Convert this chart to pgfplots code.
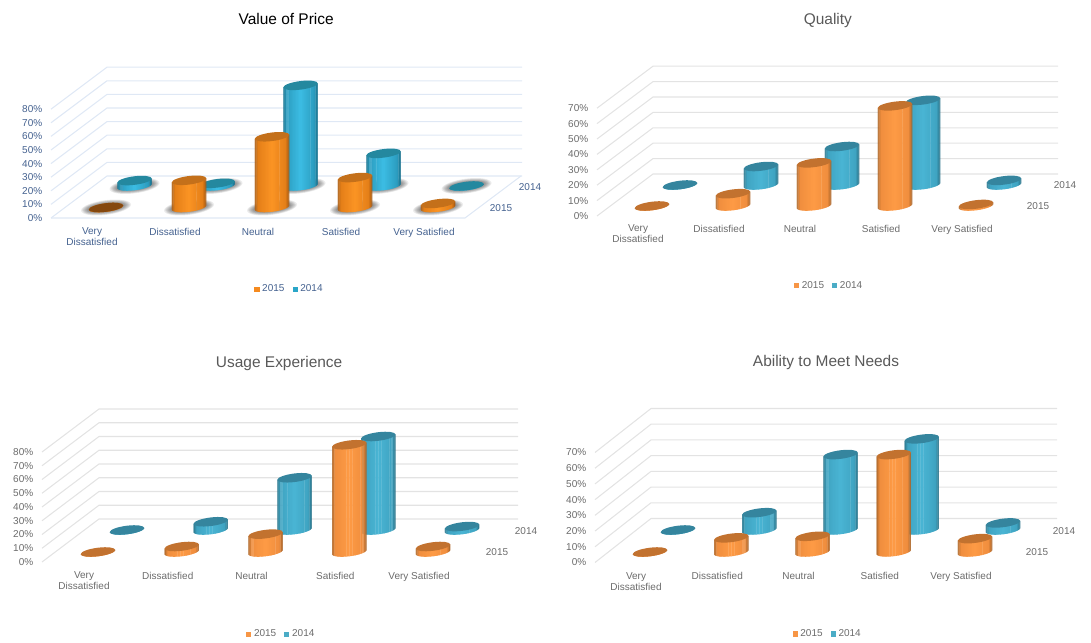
\documentclass[border=0pt]{standalone}
\usepackage{fontspec}
\setmainfont{Liberation Sans}
\usepackage{pgfplots}
\usepackage{pgfplotstable}
\pgfplotsset{compat=1.18}

% one drawing unit, and the size and tilt of the cylinder ends
\def\u{0.75pt}
\def\cylA{17.2}
\def\cylB{4.3}
\def\cylK{0.12}

\definecolor{sOvA}{HTML}{A65A12}
\definecolor{sOvB}{HTML}{E47F18}
\definecolor{sOvC}{HTML}{FB9424}
\definecolor{sBvA}{HTML}{17708C}
\definecolor{sBvB}{HTML}{2C9DC0}
\definecolor{sBvC}{HTML}{3CBDE4}
\definecolor{sOmA}{HTML}{A86428}
\definecolor{sOmB}{HTML}{F08E3E}
\definecolor{sOmC}{HTML}{FE9B45}
\definecolor{sBmA}{HTML}{2A7389}
\definecolor{sBmB}{HTML}{3FA4C2}
\definecolor{sBmC}{HTML}{4AB5D4}
\definecolor{capOv}{HTML}{C4701A}
\definecolor{capBv}{HTML}{24889F}
\definecolor{capOm}{HTML}{C2722F}
\definecolor{capBm}{HTML}{35859E}
\definecolor{discDark}{HTML}{85480F}
\definecolor{legO}{HTML}{F79646}
\definecolor{legOv}{HTML}{F58A1F}
\definecolor{legB}{HTML}{4BACC6}
\definecolor{legBv}{HTML}{2AA6C8}
\definecolor{gridBlue}{HTML}{DFE8F5}
\definecolor{gridGrey}{HTML}{E3E3E3}
\definecolor{textBlue}{HTML}{44618F}
\definecolor{textGrey}{HTML}{6B6B6B}
\definecolor{titleGrey}{HTML}{595959}

% the 36 wall colours of a cylinder, from dark rims to a bright middle
\newcommand\stripColours[4]{%
  \foreach \i in {0,...,35}{%
    \pgfmathsetmacro\cylTm{abs(cos((\i+0.5)*5))}%
    \ifdim\cylTm pt>0.80pt
      \pgfmathtruncatemacro\cylPc{100*(\cylTm-0.80)/0.20}%
      \xglobal\colorlet{#1\i}[rgb]{#2!\cylPc!#3}%
    \else
      \pgfmathtruncatemacro\cylPc{100*\cylTm/0.80}%
      \xglobal\colorlet{#1\i}[rgb]{#3!\cylPc!#4}%
    \fi}}
\stripColours{stripOv}{sOvA}{sOvB}{sOvC}
\stripColours{stripBv}{sBvA}{sBvB}{sBvC}
\stripColours{stripOm}{sOmA}{sOmB}{sOmC}
\stripColours{stripBm}{sBmA}{sBmB}{sBmC}

% a tilted ellipse: fill options, centre height, half width, half height
\newcommand\tiltedEllipse[4]{%
  \pgfmathsetmacro\cylEk{\cylK*#3}\pgfmathsetmacro\cylEc{0.5523*#4}%
  \pgfmathsetmacro\cylEd{0.5523*#3}\pgfmathsetmacro\cylEe{\cylK*\cylEd}%
  \pgfmathsetmacro\cylEy{#2}%
  \fill[draw=none,#1] (#3,\cylEy+\cylEk)
    .. controls (#3,\cylEy+\cylEk+\cylEc) and (\cylEd,\cylEy+#4+\cylEe) .. (0,\cylEy+#4)
    .. controls (-\cylEd,\cylEy+#4-\cylEe) and (-#3,\cylEy-\cylEk+\cylEc) .. (-#3,\cylEy-\cylEk)
    .. controls (-#3,\cylEy-\cylEk-\cylEc) and (-\cylEd,\cylEy-#4-\cylEe) .. (0,\cylEy-#4)
    .. controls (\cylEd,\cylEy-#4+\cylEe) and (#3,\cylEy+\cylEk-\cylEc) .. cycle;}

% a cylinder hanging from the plotted point down to its base; the wall is
% painted in narrow strips
\newcommand\cylinderMark[2]{%
  \pgfmathsetmacro\cylH{\rawy*\pxPerPct}%
  \begin{scope}[x=\u,y=\u]
    \foreach \i in {0,...,35}{%
      \pgfmathsetmacro\cylThA{\i*5}%
      \pgfmathsetmacro\cylThB{min(180,(\i+1)*5+1.5)}%
      \pgfmathsetmacro\cylXa{-\cylA*cos(\cylThA)}%
      \pgfmathsetmacro\cylXb{-\cylA*cos(\cylThB)}%
      \pgfmathsetmacro\cylYa{\cylK*\cylXa}%
      \pgfmathsetmacro\cylYb{\cylK*\cylXb}%
      \pgfmathsetmacro\cylZa{\cylYa-\cylH-\cylB*sin(\cylThA)}%
      \pgfmathsetmacro\cylZb{\cylYb-\cylH-\cylB*sin(\cylThB)}%
      \fill[draw=none,fill=#1\i] (\cylXa,\cylYa) -- (\cylXb,\cylYb) -- (\cylXb,\cylZb) -- (\cylXa,\cylZa) -- cycle;
    }
    \tiltedEllipse{#2}{0}{\cylA}{\cylB}
  \end{scope}}
\pgfdeclareplotmark{cylOv}{\cylinderMark{stripOv}{capOv}}
\pgfdeclareplotmark{cylBv}{\cylinderMark{stripBv}{capBv}}
\pgfdeclareplotmark{cylOm}{\cylinderMark{stripOm}{capOm}}
\pgfdeclareplotmark{cylBm}{\cylinderMark{stripBm}{capBm}}
% soft floor shadow below a cylinder
\pgfdeclareplotmark{floorShadow}{%
  \pgfmathsetmacro\cylH{\rawy*\pxPerPct}%
  \begin{scope}[x=\u,y=\u]
    \foreach \ra/\rb in {25/7.4,24/6.9,23/6.4,22/5.9,21/5.4,20/4.9,19/4.5}{%
      \tiltedEllipse{fill=black,opacity=0.07}{-\cylH}{\ra}{\rb}}
  \end{scope}}
\pgfdeclareplotmark{discDark}{%
  \begin{scope}[x=\u,y=\u]
    \tiltedEllipse{fill=discDark}{0}{\cylA}{\cylB}
  \end{scope}}

\pgfplotsset{
  panel/.style={
    scale only axis, clip=false,
    anchor=south west,
    axis line style={draw=none},
    major tick length=0pt, tick style={draw=none},
    ymin=0,
    xtick={0,1,2,3,4},
    xticklabels={{Very\\Dissatisfied},Dissatisfied,Neutral,Satisfied,Very Satisfied},
    xticklabel style={align=center,anchor=north,xshift=-14*\u,yshift=-9.5*\u,inner sep=0pt},
    yticklabel={\pgfmathprintnumber{\tick}\%},
    yticklabel style={inner sep=0pt,xshift=-8.5*\u},
    /pgf/number format/assume math mode=true,
    ticklabel style={font=\fontsize{7.5}{8.4}\selectfont},
    title style={anchor=center,font=\fontsize{11.6}{14}\selectfont},
    legend style={anchor=center,draw=none,fill=none,legend columns=-1,inner sep=0pt,
      font=\fontsize{7.5}{9}\selectfont,
      /tikz/every even column/.append style={column sep=5.5*\u}},
    legend cell align=left,
    legend image code/.code={\fill[##1,draw=none] (0pt,-1.9pt) rectangle (3.8pt,1.9pt);},
  },
  vivid/.style={ticklabel style={text=textBlue},legend style={text=textBlue},title style={text=black}},
  muted/.style={ticklabel style={text=textGrey},legend style={text=textGrey},title style={text=titleGrey}},
  cylseries/.style={only marks,forget plot,scatter,mark=#1,
    scatter/use mapped color={draw=none,fill=none},
    visualization depends on={rawy \as \rawy}},
}

% the wall and side grid: one line per tick, running back and then across
\newcommand\depthGrid[6]{%
  \pgfplotsinvokeforeach{#1}{%
    \draw[#5,line width=0.8pt] (axis cs:#2,##1) -- ++(#3*\u,#4*\u) -- ++(#6*\u,0pt);}}

\pgfplotstableread{
cat y2015 y2014
0   0     4
1   20    2
2   52    74
3   22    24
4   3     0
}\priceData
\pgfplotstableread{
cat y2015 y2014
0   0     0
1   8     12
2   28    25
3   65    55
4   1     3
}\qualityData
\pgfplotstableread{
cat y2015 y2014
0   0     0
1   4     6
2   13    38
3   78    68
4   4     2.5
}\usageData
\pgfplotstableread{
cat y2015 y2014
0   0     0
1   9     11
2   10    48
3   62    58
4   8.5   4.5
}\needsData

\begin{document}
\begin{tikzpicture}[x=1pt,y=1pt]
\path[use as bounding box] (0,0) rectangle (818.25pt,481.5pt);

% ---------- Value of Price ----------
\def\pxPerPct{1.36}
\begin{axis}[panel,vivid,
  at={(51*\u,424*\u)},
  width=414*\u,height=108.8*\u,
  xmin=-0.6627,xmax=4.325,ymax=80,
  ytick={0,10,...,80},
  title={Value of Price},
  title style={at={(axis description cs:0.568,1.755)}},
  legend style={at={(axis description cs:0.577,-0.653)}},
]
\depthGrid{0,10,...,80}{-0.6627}{56}{42}{gridBlue}{415}
\draw[gridBlue,line width=0.8pt] (axis cs:-0.6627,0) -- (axis cs:4.325,0) -- ++(56*\u,42*\u);
\addlegendimage{fill=legOv}\addlegendentry{2015}
\addlegendimage{fill=legBv}\addlegendentry{2014}
\addplot[cylseries=floorShadow,xshift=28.5*\u,yshift=32*\u] table[x=cat,y=y2014]{\priceData};
\addplot[cylseries=cylBv,xshift=28.5*\u,yshift=32*\u] table[x=cat,y=y2014]{\priceData};
\addplot[cylseries=floorShadow,yshift=10.5*\u] table[x=cat,y=y2015]{\priceData};
\addplot[cylseries=cylOv,yshift=10.5*\u] table[x=cat,y=y2015]{\priceData};
\addplot[only marks,forget plot,mark=discDark,yshift=10.5*\u] coordinates {(0,0)};
\path (axis cs:-0.6627,0) ++(450*\u,10*\u) node[text=textBlue,font=\fontsize{7.5}{9}\selectfont]{2015};
\path (axis cs:-0.6627,0) ++(479*\u,31*\u) node[text=textBlue,font=\fontsize{7.5}{9}\selectfont]{2014};
\end{axis}

% ---------- Quality ----------
\def\pxPerPct{1.54}
\begin{axis}[panel,muted,
  at={(597*\u,426*\u)},
  width=405*\u,height=107.8*\u,
  xmin=-0.679,xmax=4.321,ymax=70,
  ytick={0,10,...,70},
  title={Quality},
  title style={at={(axis description cs:0.570,1.735)}},
  legend style={at={(axis description cs:0.574,-0.649)}},
  xticklabel style={yshift=1*\u},
]
\depthGrid{0,10,...,70}{-0.679}{56}{42}{gridGrey}{405}
\addlegendimage{fill=legO}\addlegendentry{2015}
\addlegendimage{fill=legB}\addlegendentry{2014}
\addplot[cylseries=cylBm,xshift=28*\u,yshift=31*\u] table[x=cat,y=y2014]{\qualityData};
\addplot[cylseries=cylOm,yshift=10*\u] table[x=cat,y=y2015]{\qualityData};
\path (axis cs:-0.679,0) ++(441*\u,10*\u) node[text=textGrey,font=\fontsize{7.5}{9}\selectfont]{2015};
\path (axis cs:-0.679,0) ++(468*\u,31*\u) node[text=textGrey,font=\fontsize{7.5}{9}\selectfont]{2014};
\end{axis}

% ---------- Usage Experience ----------
\def\pxPerPct{1.375}
\begin{axis}[panel,muted,
  at={(42*\u,80*\u)},
  width=419*\u,height=110*\u,
  xmin=-0.6687,xmax=4.334,ymax=80,
  ytick={0,10,...,80},
  title={Usage Experience},
  title style={at={(axis description cs:0.566,1.736)}},
  legend style={at={(axis description cs:0.572,-0.655)}},
]
\depthGrid{0,10,...,80}{-0.6687}{57}{43}{gridGrey}{419}
\addlegendimage{fill=legO}\addlegendentry{2015}
\addlegendimage{fill=legB}\addlegendentry{2014}
\addplot[cylseries=cylBm,xshift=29*\u,yshift=32*\u] table[x=cat,y=y2014]{\usageData};
\addplot[cylseries=cylOm,yshift=10*\u] table[x=cat,y=y2015]{\usageData};
\path (axis cs:-0.6687,0) ++(455*\u,10*\u) node[text=textGrey,font=\fontsize{7.5}{9}\selectfont]{2015};
\path (axis cs:-0.6687,0) ++(484*\u,31*\u) node[text=textGrey,font=\fontsize{7.5}{9}\selectfont]{2014};
\end{axis}

% ---------- Ability to Meet Needs ----------
\def\pxPerPct{1.57}
\begin{axis}[panel,muted,
  at={(595*\u,79.5*\u)},
  width=406*\u,height=110*\u,
  xmin=-0.677,xmax=4.32,ymax=70,
  ytick={0,10,...,70},
  title={Ability to Meet Needs},
  title style={at={(axis description cs:0.569,1.741)}},
  legend style={at={(axis description cs:0.574,-0.65)}},
]
\depthGrid{0,10,...,70}{-0.677}{56}{44}{gridGrey}{406}
\addlegendimage{fill=legO}\addlegendentry{2015}
\addlegendimage{fill=legB}\addlegendentry{2014}
\addplot[cylseries=cylBm,xshift=28*\u,yshift=32.5*\u] table[x=cat,y=y2014]{\needsData};
\addplot[cylseries=cylOm,yshift=10.5*\u] table[x=cat,y=y2015]{\needsData};
\path (axis cs:-0.677,0) ++(442*\u,10.5*\u) node[text=textGrey,font=\fontsize{7.5}{9}\selectfont]{2015};
\path (axis cs:-0.677,0) ++(469*\u,31.5*\u) node[text=textGrey,font=\fontsize{7.5}{9}\selectfont]{2014};
\end{axis}
\end{tikzpicture}
\end{document}
